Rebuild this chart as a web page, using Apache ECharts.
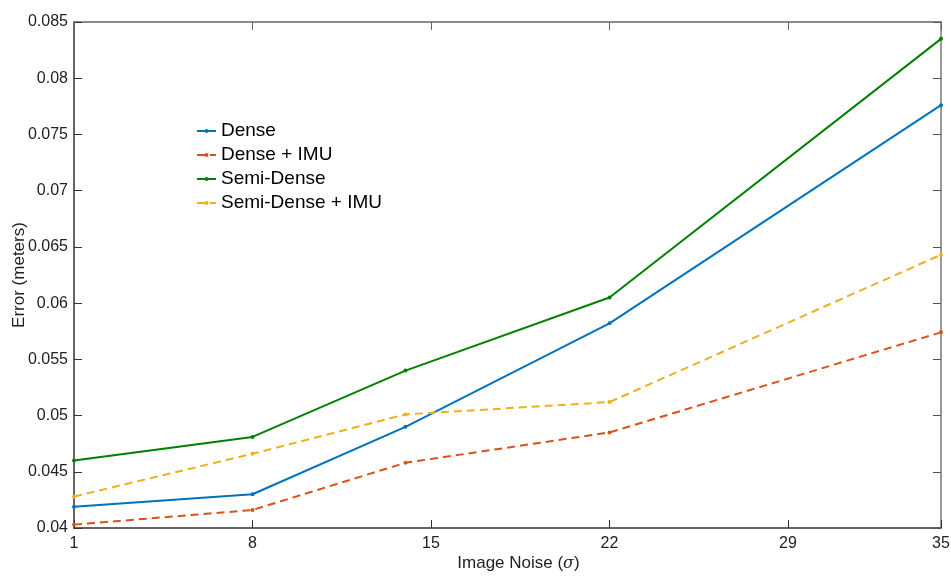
<!DOCTYPE html>
<html>
<head>
<meta charset="utf-8">
<script src="https://cdn.jsdelivr.net/npm/echarts@6/dist/echarts.min.js"></script>
<style>html,body{margin:0;padding:0;background:#fff}#c{width:951px;height:577px}</style>
</head>
<body>
<div id="c"></div>
<script>
const noiseLevels = [1, 8, 14, 22, 35];
const xTickLabels = [1, 8, 15, 22, 29, 35];
const dense = [0.0419, 0.0430, 0.0490, 0.0582, 0.0776];
const denseIMU = [0.0403, 0.0416, 0.0458, 0.0485, 0.0574];
const semiDense = [0.0460, 0.0481, 0.0540, 0.0605, 0.0835];
const semiDenseIMU = [0.0428, 0.0466, 0.0501, 0.0512, 0.0643];
const seriesNames = ['Dense', 'Dense + IMU', 'Semi-Dense', 'Semi-Dense + IMU'];

const pairs = arr => noiseLevels.map((x, i) => [x, arr[i]]);
const font = 'Liberation Sans, Arial, Helvetica, sans-serif';
const axisCol = '#333';

function mk(name, data, color, dashed) {
  return {
    name, type: 'line', data: pairs(data), xAxisIndex: 0, yAxisIndex: 0,
    symbol: 'circle', symbolSize: 4, showSymbol: true,
    itemStyle: { color },
    lineStyle: { color, width: 2, type: dashed ? [8, 5] : 'solid' },
    emphasis: { disabled: true }, animation: false
  };
}

const chart = echarts.init(document.getElementById('c'));
chart.setOption({
  animation: false,
  backgroundColor: '#fff',
  grid: { left: 74, right: 10, top: 22, bottom: 49, containLabel: false, outerBoundsMode: 'none' },
  legend: {
    orient: 'vertical', left: 191, top: 116,
    itemWidth: 19, itemHeight: 5, itemGap: 4,
    data: seriesNames,
    textStyle: { fontFamily: font, fontSize: 19, color: '#000', lineHeight: 20 }
  },
  xAxis: [{
    type: 'value', min: 1, max: 35, position: 'bottom',
    name: 'Image Noise ({i|σ})', nameLocation: 'middle', nameGap: 27, nameMoveOverlap: false,
    nameTextStyle: { fontFamily: font, fontSize: 17, color: '#222', padding: [0, 0, 0, 22],
      rich: { i: { fontFamily: 'DejaVu Serif, serif', fontStyle: 'italic', fontSize: 16, color: '#222' } } },
    axisLine: { show: true, onZero: false, lineStyle: { color: axisCol, width: 1.5 } },
    axisTick: { show: true, inside: true, length: 8, customValues: xTickLabels, lineStyle: { color: axisCol } },
    axisLabel: { customValues: xTickLabels, fontFamily: font, fontSize: 16, color: '#222', margin: 8 },
    splitLine: { show: false }
  }, {
    type: 'value', min: 1, max: 35, position: 'top',
    axisLine: { show: true, onZero: false, lineStyle: { color: '#666', width: 1.5 } },
    axisTick: { show: true, inside: true, length: 8, customValues: xTickLabels, lineStyle: { color: '#666' } },
    axisLabel: { show: false },
    splitLine: { show: false }
  }],
  yAxis: [{
    type: 'value', min: 0.04, max: 0.085, interval: 0.005, position: 'left',
    name: 'Error (meters)', nameLocation: 'middle', nameGap: 46, nameMoveOverlap: false,
    nameTextStyle: { fontFamily: font, fontSize: 17, color: '#222' },
    axisLine: { show: true, onZero: false, lineStyle: { color: axisCol, width: 1.5 } },
    axisTick: { show: true, inside: true, length: 8, lineStyle: { color: axisCol } },
    axisLabel: { fontFamily: font, fontSize: 16, color: '#222', margin: 6,
      formatter: v => String(+v.toFixed(3)) },
    splitLine: { show: false }
  }, {
    type: 'value', min: 0.04, max: 0.085, interval: 0.005, position: 'right',
    axisLine: { show: true, onZero: false, lineStyle: { color: '#777', width: 1.5 } },
    axisTick: { show: true, inside: true, length: 8, lineStyle: { color: '#555' } },
    axisLabel: { show: false },
    splitLine: { show: false }
  }],
  series: [
    mk(seriesNames[0], dense, '#0072BD', false),
    mk(seriesNames[1], denseIMU, '#D95319', true),
    mk(seriesNames[2], semiDense, '#008000', false),
    mk(seriesNames[3], semiDenseIMU, '#EDB120', true)
  ]
});
</script>
</body>
</html>
